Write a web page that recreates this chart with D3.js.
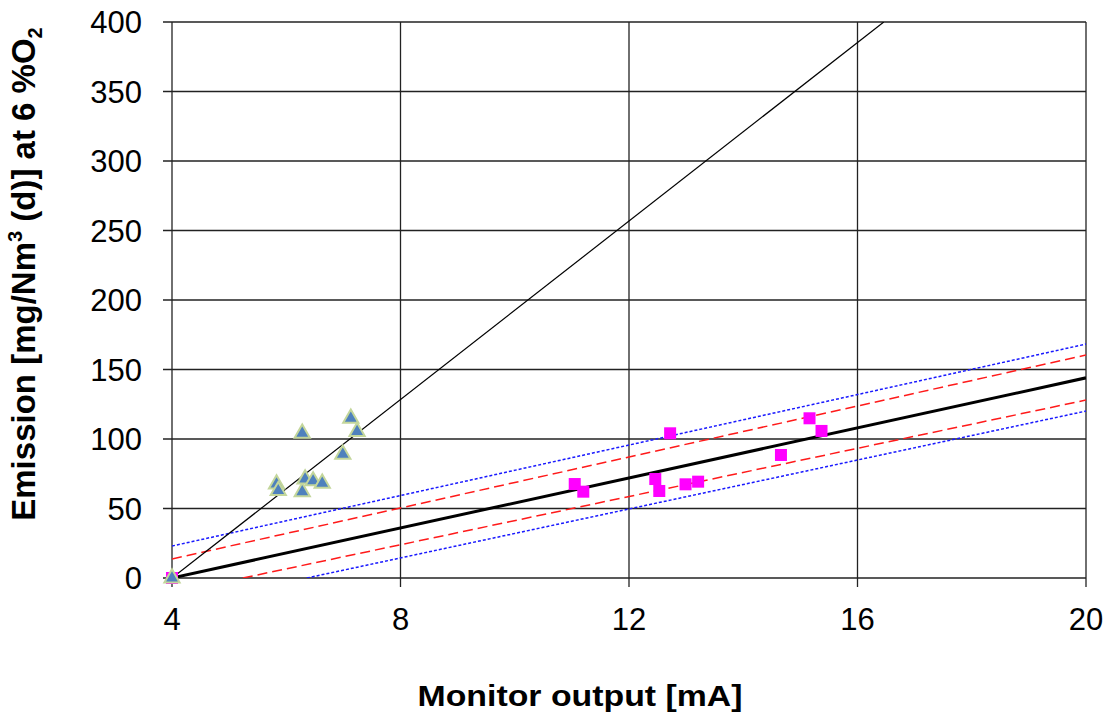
<!DOCTYPE html>
<html>
<head>
<meta charset="utf-8">
<script src="https://cdn.jsdelivr.net/npm/d3@7"></script>
<style>
  body { margin: 0; background: #fff; }
  text { font-family: "Liberation Sans", Arial, sans-serif; }
</style>
</head>
<body>
<div id="chart"></div>
<script>
// Tick values
var xTicks = [4, 8, 12, 16, 20];
var yTicks = [0, 50, 100, 150, 200, 250, 300, 350, 400];

// Triangles (monitor output vs emission, first series)
var triX = [4, 5.83, 5.86, 6.28, 6.28, 6.33, 6.47, 6.63, 6.99, 7.13, 7.24];
var triY = [0, 67.6, 62.8, 104.1, 62.0, 71.2, 69.8, 68.1, 89.0, 114.9, 105.3];

// Squares (second series)
var sqX = [4, 11.05, 11.2, 12.46, 12.53, 12.72, 12.99, 13.21, 14.66, 15.16, 15.37];
var sqY = [0, 67.6, 62.1, 71.2, 62.6, 104.1, 67.4, 69.3, 88.5, 114.9, 105.8];

// Reference lines, each as [start, end] in data units
var thinLine = [[4, 0], [16.46, 400]];
var calLine = [[4, 0], [20, 144]];
var redUpper = [[4, 13.7], [20, 160.4]];
var redLower = [[5.24, 0], [20, 128]];
var blueUpper = [[4, 23], [20, 168.3]];
var blueLower = [[6.36, 0], [20, 120.1]];

function init() {
    var w = 1112, h = 715;
    var margin = { left: 172, right: 26, top: 22, bottom: 137 };

    var x = d3.scaleLinear().domain([4, 20]).range([margin.left, w - margin.right]);
    var y = d3.scaleLinear().domain([0, 400]).range([h - margin.bottom, margin.top]);

    var svg = d3.select("#chart").append("svg")
        .attr("width", w)
        .attr("height", h);

    svg.append("defs").append("clipPath").attr("id", "plot")
        .append("rect")
        .attr("x", x(4)).attr("y", y(400))
        .attr("width", x(20) - x(4)).attr("height", y(0) - y(400));

    // Gridlines
    svg.append("g").selectAll("line").data(yTicks).enter().append("line")
        .attr("x1", x(4) - 9).attr("x2", x(20))
        .attr("y1", function (d) { return y(d); })
        .attr("y2", function (d) { return y(d); })
        .attr("stroke", "#222").attr("stroke-width", 1.3);

    svg.append("g").selectAll("line").data(xTicks).enter().append("line")
        .attr("x1", function (d) { return x(d); })
        .attr("x2", function (d) { return x(d); })
        .attr("y1", y(400)).attr("y2", y(0) + 9)
        .attr("stroke", "#222").attr("stroke-width", 1.3);

    // Tick labels
    svg.append("g").selectAll("text").data(yTicks).enter().append("text")
        .attr("x", x(4) - 30)
        .attr("y", function (d) { return y(d) + 11; })
        .attr("text-anchor", "end")
        .attr("font-size", 31)
        .text(function (d) { return d; });

    svg.append("g").selectAll("text").data(xTicks).enter().append("text")
        .attr("x", function (d) { return x(d); })
        .attr("y", y(0) + 52)
        .attr("text-anchor", "middle")
        .attr("font-size", 31)
        .text(function (d) { return d; });

    // Lines
    var line = d3.line()
        .x(function (d) { return x(d[0]); })
        .y(function (d) { return y(d[1]); });

    var lines = svg.append("g").attr("clip-path", "url(#plot)");
    lines.append("path").attr("d", line(blueUpper)).attr("fill", "none")
        .attr("stroke", "#1a1aff").attr("stroke-width", 1.5).attr("stroke-dasharray", "3,2");
    lines.append("path").attr("d", line(blueLower)).attr("fill", "none")
        .attr("stroke", "#1a1aff").attr("stroke-width", 1.5).attr("stroke-dasharray", "3,2");
    lines.append("path").attr("d", line(redUpper)).attr("fill", "none")
        .attr("stroke", "#ff1a1a").attr("stroke-width", 1.5).attr("stroke-dasharray", "10,5");
    lines.append("path").attr("d", line(redLower)).attr("fill", "none")
        .attr("stroke", "#ff1a1a").attr("stroke-width", 1.5).attr("stroke-dasharray", "10,5");
    lines.append("path").attr("d", line(thinLine)).attr("fill", "none")
        .attr("stroke", "#000").attr("stroke-width", 1.2);
    lines.append("path").attr("d", line(calLine)).attr("fill", "none")
        .attr("stroke", "#000").attr("stroke-width", 3);

    // Squares
    svg.append("g").selectAll("rect").data(d3.range(sqX.length)).enter().append("rect")
        .attr("x", function (i) { return x(sqX[i]) - 6; })
        .attr("y", function (i) { return y(sqY[i]) - 6; })
        .attr("width", 12).attr("height", 12)
        .attr("fill", "#ff00ff");

    // Triangles
    var tri = d3.symbol().type(d3.symbolTriangle).size(100);
    svg.append("g").selectAll("path").data(d3.range(triX.length)).enter().append("path")
        .attr("d", tri)
        .attr("transform", function (i) { return "translate(" + x(triX[i]) + "," + y(triY[i]) + ")"; })
        .attr("fill", "#4f81bd")
        .attr("stroke", "#c3d69b")
        .attr("stroke-width", 2);

    // Axis titles
    svg.append("text")
        .attr("x", 580)
        .attr("y", 706)
        .attr("text-anchor", "middle")
        .attr("font-size", 29)
        .attr("font-weight", "bold")
        .attr("textLength", 325)
        .attr("lengthAdjust", "spacingAndGlyphs")
        .text("Monitor output [mA]");

    var yt = svg.append("text")
        .attr("transform", "translate(35,274) rotate(-90)")
        .attr("text-anchor", "middle")
        .attr("font-size", 33)
        .attr("font-weight", "bold");
    yt.append("tspan").text("Emission [mg/Nm");
    yt.append("tspan").attr("font-size", 20).attr("dy", -13).text("3");
    yt.append("tspan").attr("dy", 13).text(" (d)] at 6 %O");
    yt.append("tspan").attr("font-size", 20).attr("dy", 7).text("2");
}

window.onload = init;
</script>
</body>
</html>
